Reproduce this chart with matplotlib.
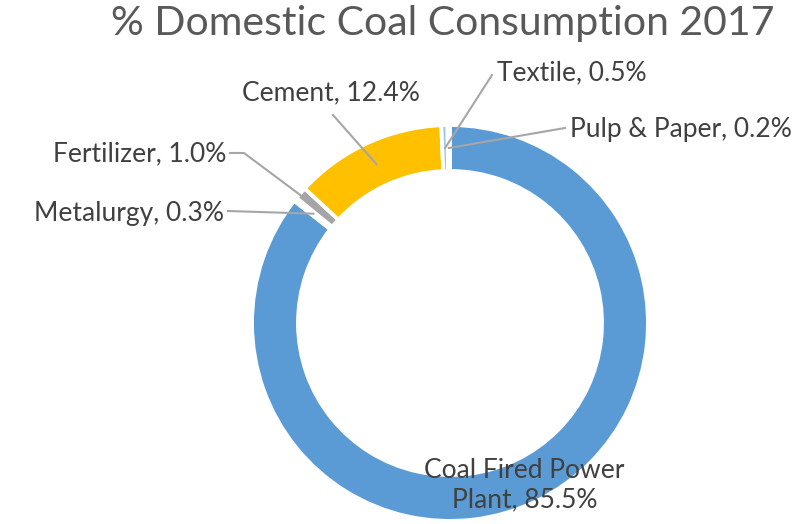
import numpy as np
import matplotlib.pyplot as plt

# data
labels = ["Coal Fired Power\nPlant", "Metalurgy", "Fertilizer", "Cement", "Textile", "Pulp & Paper"]
values = [85.5, 0.3, 1.0, 12.4, 0.5, 0.2]
colors = ["#5B9BD5", "#ED7D31", "#A5A5A5", "#FFC000", "#9DC3E6", "#70AD47"]

plt.rcParams['font.family'] = ['Lato', 'DejaVu Sans']

W, H = 808, 524
fig = plt.figure(figsize=(W / 100, H / 100), dpi=100)
ax = fig.add_axes([0, 0, 1, 1])

cx, cy, R, ring = 450, H - 323, 198, 46
wedges, _ = ax.pie(values, colors=colors, startangle=90, counterclock=False,
                   center=(cx, cy), radius=R, frame=True,
                   wedgeprops=dict(width=ring, edgecolor='white', linewidth=2.8))
ax.set_xlim(0, W)
ax.set_ylim(0, H)
ax.set_aspect('equal')
ax.axis('off')

def mid(w):
    a = np.deg2rad((w.theta1 + w.theta2) / 2)
    r = R - ring / 2
    return cx + r * np.cos(a), cy + r * np.sin(a)

txt = dict(color='#404040', fontsize=19)
line = dict(color='#A6A6A6', lw=1.5)

# Coal Fired Power Plant - inside ring
x, y = mid(wedges[0])
ax.text(x - 2, y - 5, f"{labels[0]}, {values[0]}%", ha='center', va='center',
        linespacing=1.2, **txt)

# outside labels
spots = {1: (224, H - 213, 'right'),
         2: (226, H - 154, 'right'),
         3: (331, H - 93, 'center'),
         4: (497, H - 73, 'left'),
         5: (570, H - 129, 'left')}
for i, (tx, ty, ha) in spots.items():
    px, py = mid(wedges[i])
    ax.text(tx, ty, f"{labels[i]}, {values[i]}%", ha=ha, va='center', **txt)
    if i == 1:
        ax.plot([tx + 4, px], [ty + 2, py], **line)
    elif i == 2:
        ax.plot([tx + 4, tx + 18, px], [ty + 1, ty + 1, py], **line)
    elif i == 3:
        ax.plot([tx + 2, px], [ty - 22, py], **line)
    elif i == 4:
        ax.plot([tx - 5, px], [ty - 2, py], **line)
    else:
        ax.plot([tx - 5, px], [ty + 1, py], **line)

ax.text(443, H - 24, "% Domestic Coal Consumption 2017", ha='center', va='center',
        color='#595959', fontsize=29.5)

fig.savefig("out.png", dpi=100)
